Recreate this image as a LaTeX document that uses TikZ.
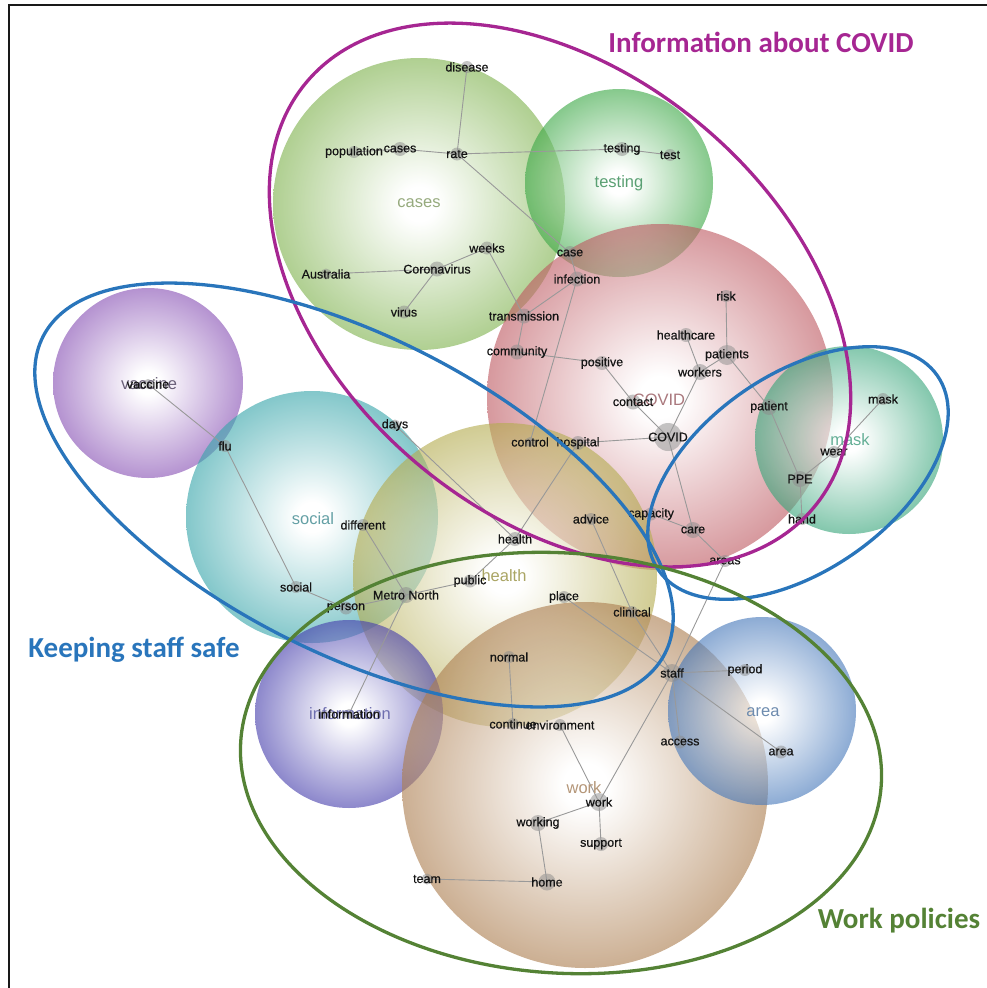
\documentclass[tikz,border=0pt]{standalone}
\usepackage{fontspec}
\setmainfont{Liberation Sans}
\newfontfamily\grpfont{Carlito}
\newfontfamily\lblfont[FakeBold=0.6]{Liberation Sans}
% bubble colours
\definecolor{cCases}{RGB}{127,178,78}
\definecolor{cTesting}{RGB}{60,168,70}
\definecolor{cCovid}{RGB}{190,90,98}
\definecolor{cMask}{RGB}{55,165,122}
\definecolor{cVaccine}{RGB}{135,80,180}
\definecolor{cSocial}{RGB}{55,165,170}
\definecolor{cHealth}{RGB}{180,172,80}
\definecolor{cInfo}{RGB}{70,62,172}
\definecolor{cWork}{RGB}{172,126,80}
\definecolor{cArea}{RGB}{70,120,186}
% theme text colours
\definecolor{tCases}{RGB}{150,170,125}
\definecolor{tTesting}{RGB}{90,160,115}
\definecolor{tCovid}{RGB}{170,120,125}
\definecolor{tMask}{RGB}{100,175,150}
\definecolor{tVaccine}{RGB}{105,95,120}
\definecolor{tSocial}{RGB}{100,160,165}
\definecolor{tHealth}{RGB}{170,165,100}
\definecolor{tInfo}{RGB}{110,110,175}
\definecolor{tWork}{RGB}{180,150,120}
\definecolor{tArea}{RGB}{110,140,175}
% group colours
\definecolor{gMag}{RGB}{166,38,146}
\definecolor{gBlue}{RGB}{41,117,187}
\definecolor{gGreen}{RGB}{84,130,53}
\pgfdeclareradialshading{shCases}{\pgfpoint{0bp}{0bp}}{color(0bp)=(white); color(3bp)=(white); color(25bp)=(cCases); color(50bp)=(cCases)}
\pgfdeclareradialshading{shTesting}{\pgfpoint{0bp}{0bp}}{color(0bp)=(white); color(3bp)=(white); color(25bp)=(cTesting); color(50bp)=(cTesting)}
\pgfdeclareradialshading{shCovid}{\pgfpoint{0bp}{0bp}}{color(0bp)=(white); color(3bp)=(white); color(25bp)=(cCovid); color(50bp)=(cCovid)}
\pgfdeclareradialshading{shMask}{\pgfpoint{0bp}{0bp}}{color(0bp)=(white); color(3bp)=(white); color(25bp)=(cMask); color(50bp)=(cMask)}
\pgfdeclareradialshading{shVaccine}{\pgfpoint{0bp}{0bp}}{color(0bp)=(white); color(3bp)=(white); color(25bp)=(cVaccine); color(50bp)=(cVaccine)}
\pgfdeclareradialshading{shSocial}{\pgfpoint{0bp}{0bp}}{color(0bp)=(white); color(3bp)=(white); color(25bp)=(cSocial); color(50bp)=(cSocial)}
\pgfdeclareradialshading{shHealth}{\pgfpoint{0bp}{0bp}}{color(0bp)=(white); color(3bp)=(white); color(25bp)=(cHealth); color(50bp)=(cHealth)}
\pgfdeclareradialshading{shInfo}{\pgfpoint{0bp}{0bp}}{color(0bp)=(white); color(3bp)=(white); color(25bp)=(cInfo); color(50bp)=(cInfo)}
\pgfdeclareradialshading{shWork}{\pgfpoint{0bp}{0bp}}{color(0bp)=(white); color(3bp)=(white); color(25bp)=(cWork); color(50bp)=(cWork)}
\pgfdeclareradialshading{shArea}{\pgfpoint{0bp}{0bp}}{color(0bp)=(white); color(3bp)=(white); color(25bp)=(cArea); color(50bp)=(cArea)}
\tikzset{
  bubble/.style={circle, draw=none, inner sep=0pt, minimum size=#1, shade, fill opacity=0.62},
  cdot/.style={circle, draw=none, fill=black!45, fill opacity=0.5, inner sep=0pt, minimum size=#1},
  clabel/.style={inner sep=0pt, text=black!92, font=\lblfont\fontsize{12.5}{13}\selectfont},
  theme/.style={inner sep=0pt, text=#1, font=\fontsize{16.5}{17}\selectfont},
  edge/.style={draw=black!40, line width=0.9pt},
  grp/.style={draw=#1, line width=3.3pt},
  glabel/.style={inner sep=0pt, text=#1, font=\grpfont\bfseries\fontsize{29}{30}\selectfont},
  frameline/.style={draw=black!90, line width=2pt}
}
\def\concepts{disease/467/67/12/disease, population/354/152/12/population, cases/400/149/14/cases, rate/457/154/13/rate, testing/622/149/14/testing, test/670/155/12/test, case/570/253/14/case, weeks/487/248/13/weeks, Coronavirus/437/269/15/Coronavirus, Australia/326/274/11/Australia, virus/404/312/13/virus, transmission/524/316/15/transmission, infection/577/279/15/infection, community/517/352/15/community, positive/602/363/14/positive, risk/726/296/12/risk, healthcare/686/335/14/healthcare, patients/727/355/20/patients, workers/700/372/16/workers, contact/633/402/15/contact, COVID/668/437/28/COVID, patient/769/407/16/patient, mask/883/399/12/mask, wear/834/452/12/wear, PPE/800/479/16/PPE, hand/802/519/12/hand, control/530/442/10/control, hospital/578/443/14/hospital, advice/591/519/12/advice, capacity/651/514/13/capacity, care/693/530/16/care, areas/725/561/12/areas, health/515/539/14/health, days/395/425/11/days, flu/225/446/12/flu, vaccine/148/384/10/vaccine, different/363/525/12/different, social/296/587/12/social, person/346/608/13/person, MetroNorth/406/595/16/Metro North, public/470/581/13/public, place/564/597/12/place, clinical/632/612/12/clinical, normal/509/657/12/normal, staff/672/673/18/staff, period/745/670/12/period, information/349/714/10/information, continue/513/724/12/continue, environment/560/725/12/environment, access/680/742/13/access, area/781/752/13/area, work/599/802/18/work, working/538/823/16/working, support/601/844/14/support, team/427/879/11/team, home/547/882/17/home}
\begin{document}
\begin{tikzpicture}[x=1pt,y=-1pt]
\useasboundingbox (0,0) rectangle (987,988);
% theme bubbles
\node[bubble=292pt, shading=shCases] (b-cases) at (419,204) {};
\node[bubble=188pt, shading=shTesting] (b-testing) at (619,183) {};
\node[bubble=346pt, shading=shCovid] (b-covid) at (660,397) {};
\node[bubble=188pt, shading=shMask] (b-mask) at (849,440) {};
\node[bubble=190pt, shading=shVaccine] (b-vaccine) at (148,383) {};
\node[bubble=252pt, shading=shSocial] (b-social) at (312,517) {};
\node[bubble=304pt, shading=shHealth] (b-health) at (505,575) {};
\node[bubble=188pt, shading=shInfo] (b-info) at (349,714) {};
\node[bubble=366pt, shading=shWork] (b-work) at (585,785) {};
\node[bubble=188pt, shading=shArea] (b-area) at (762,711) {};
% concept dots
\foreach \n/\x/\y/\s/\t in \concepts {
  \node[cdot=\s pt] (\n) at (\x,\y) {};
}
% connectors
\foreach \a/\b in {population/cases, cases/rate, rate/disease, rate/testing, testing/test, rate/case, case/infection, weeks/Coronavirus, Coronavirus/Australia, Coronavirus/virus, weeks/transmission, transmission/infection, transmission/community, infection/control, community/positive, positive/contact, contact/COVID, COVID/workers, workers/healthcare, workers/patients, patients/risk, patients/patient, patient/PPE, PPE/wear, wear/mask, PPE/hand, COVID/hospital, hospital/health, COVID/care, capacity/care, care/areas, areas/staff, advice/clinical, clinical/staff, place/staff, staff/period, staff/access, staff/area, staff/work, days/health, health/public, public/MetroNorth, MetroNorth/different, MetroNorth/person, person/social, social/flu, flu/vaccine, MetroNorth/information, normal/continue, environment/work, work/working, work/support, working/home, home/team} {
  \draw[edge] (\a.center) -- (\b.center);
}
% theme labels
\node[theme=tCases] (th-cases) at (419,203) {cases};
\node[theme=tTesting] (th-testing) at (619,183) {testing};
\node[theme=tCovid] (th-covid) at (659,400) {COVID};
\node[theme=tMask] (th-mask) at (850,440) {mask};
\node[theme=tVaccine] (th-vaccine) at (149,384) {vaccine};
\node[theme=tSocial] (th-social) at (313,519) {social};
\node[theme=tHealth] (th-health) at (504,576) {health};
\node[theme=tInfo] (th-info) at (350,714) {information};
\node[theme=tWork] (th-work) at (584,788) {work};
\node[theme=tArea] (th-area) at (763,712) {area};
% concept labels
\foreach \n/\x/\y/\s/\t in \concepts {
  \node[clabel] (\n-t) at (\n.center) {\t};
}
% group outlines
\draw[grp=gMag, rotate around={-40:(560,295)}] (560,295) ellipse [x radius=331pt, y radius=221pt];
\draw[grp=gBlue, rotate around={-27:(354,495)}] (354,495) ellipse [x radius=349pt, y radius=158pt];
\draw[grp=gBlue, rotate around={35:(798,473)}] (798,473) ellipse [x radius=170pt, y radius=98pt];
\draw[grp=gGreen, rotate around={-4:(561,763)}] (561,763) ellipse [x radius=321pt, y radius=210pt];
% group labels
\node[glabel=gMag] (g-info) at (761,42) {Information about COVID};
\node[glabel=gBlue] (g-safe) at (134,650) {Keeping staff safe};
\node[glabel=gGreen] (g-work) at (899,921) {Work policies};
% frame
\coordinate (fr-bl) at (9,988);
\coordinate (fr-tl) at (9,5);
\coordinate (fr-tr) at (987,5);
\draw[frameline] (fr-bl) -- (fr-tl) -- (fr-tr);
\end{tikzpicture}
\end{document}
